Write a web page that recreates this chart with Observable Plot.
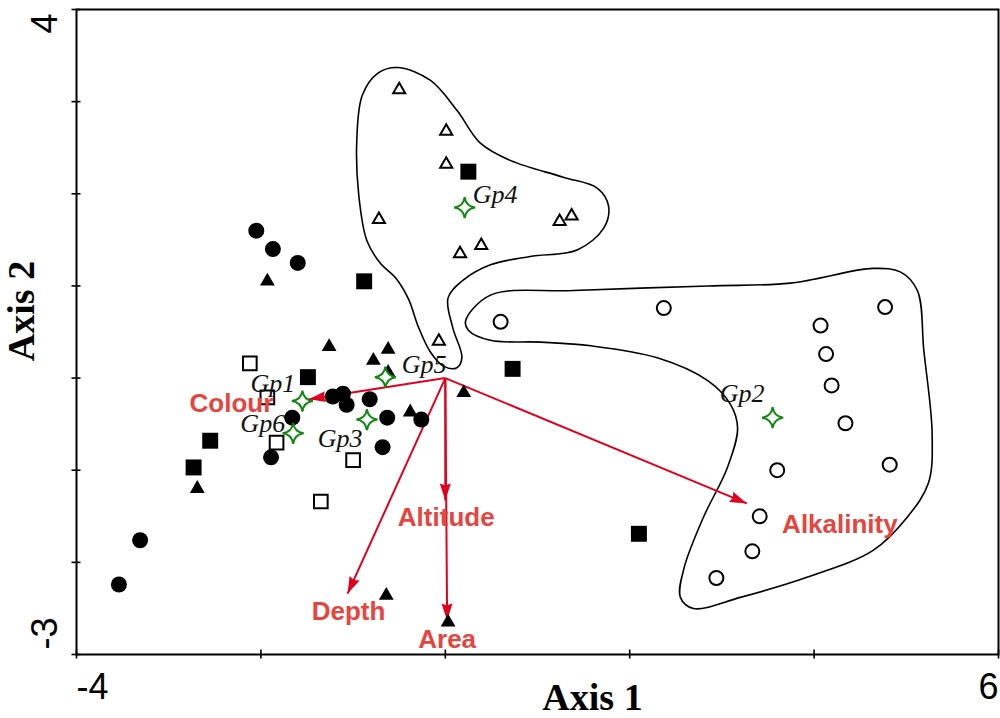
<!DOCTYPE html>
<html>
<head>
<meta charset="utf-8">
<script src="https://cdn.jsdelivr.net/npm/d3@7"></script>
<script src="https://cdn.jsdelivr.net/npm/@observablehq/plot@0.6"></script>
<style>
  html, body { margin: 0; padding: 0; background: #fff; }
  #chart svg { display: block; }
</style>
</head>
<body>
<div id="chart"></div>
<script>
// Site scores on the first two ordination axes, one array per symbol class
const filledCircles = [
  [-2.05, 1.60], [-1.87, 1.40], [-1.60, 1.25], [-1.66, -0.43], [-1.89, -0.86],
  [-3.31, -1.76], [-3.54, -2.24], [-1.22, -0.20], [-1.11, -0.17], [-1.07, -0.29],
  [-0.82, -0.23], [-0.63, -0.43], [-0.26, -0.45], [-0.68, -0.75]
];
const openCircles = [
  [0.60, 0.61], [2.37, 0.76], [4.77, 0.77], [4.07, 0.57], [4.13, 0.26],
  [4.19, -0.08], [4.34, -0.49], [3.60, -1.00], [4.82, -0.94], [3.41, -1.50],
  [3.33, -1.88], [2.94, -2.17]
];
const filledSquares = [
  [-1.49, 0.01], [-2.55, -0.68], [-2.73, -0.97], [0.25, 2.24], [-0.88, 1.05],
  [0.73, 0.10], [2.10, -1.69]
];
const openSquares = [
  [-2.12, 0.16], [-1.93, -0.21], [-1.83, -0.70], [-1.00, -0.89], [-1.35, -1.34]
];
const filledTriangles = [
  [-1.93, 1.05], [-1.26, 0.34], [-2.69, -1.20], [-0.62, 0.31], [-0.78, 0.19],
  [-0.62, 0.06], [-0.38, -0.37], [0.20, -0.16], [-0.64, -2.36], [0.03, -2.65]
];
const openTriangles = [
  [-0.50, 3.13], [0.01, 2.68], [0.01, 2.32], [-0.72, 1.72], [1.24, 1.70],
  [1.37, 1.76], [0.16, 1.35], [0.39, 1.44], [-0.07, 0.40]
];

// Group centroids and where their names are written
const groupNames = ["Gp1", "Gp2", "Gp3", "Gp4", "Gp5", "Gp6"];
const groupCentroids = [[-1.55, -0.25], [3.55, -0.43], [-0.85, -0.45], [0.21, 1.85], [-0.65, 0.01], [-1.65, -0.60]];
const groupLabelAt = [[-1.87, -0.06], [3.22, -0.17], [-1.14, -0.66], [0.54, 1.99], [-0.23, 0.14], [-1.98, -0.50]];

// Environmental variable vectors (biplot arrows from the origin)
const variableNames = ["Colour", "Altitude", "Depth", "Area", "Alkalinity"];
const variableTips = [[-1.48, -0.23], [0.00, -1.33], [-1.06, -2.34], [0.02, -2.63], [3.27, -1.36]];
const variableLabelAt = [[-2.32, -0.28], [0.01, -1.51], [-1.05, -2.54], [0.02, -2.84], [4.28, -1.59]];

// Hand-drawn outlines around groups Gp4 and Gp2
const outlineGp4 = [
  [-0.51, 3.37], [-0.16, 3.23], [0.13, 2.90], [0.38, 2.55], [0.71, 2.36], [1.28, 2.18],
  [1.65, 2.06], [1.77, 1.87], [1.72, 1.63], [1.43, 1.39], [0.92, 1.32], [0.49, 1.23],
  [0.19, 1.06], [0.03, 0.87], [0.08, 0.55], [0.18, 0.22], [0.12, 0.11], [-0.02, 0.13],
  [-0.16, 0.28], [-0.29, 0.55], [-0.40, 0.86], [-0.54, 1.09], [-0.70, 1.24], [-0.85, 1.49],
  [-0.94, 2.00], [-0.96, 2.58], [-0.90, 3.07], [-0.73, 3.31]
];
const outlineGp2 = [
  [0.22, 0.62], [0.49, 0.90], [1.39, 0.95], [2.85, 1.00], [3.74, 1.03], [4.64, 1.19],
  [4.94, 1.15], [5.12, 0.95], [5.19, 0.30], [5.28, -0.60], [5.24, -1.14], [5.01, -1.51],
  [4.64, -1.87], [3.93, -2.16], [3.20, -2.38], [2.69, -2.50], [2.55, -2.38], [2.59, -2.06],
  [2.80, -1.51], [3.06, -0.97], [3.17, -0.54], [3.09, -0.28], [2.85, -0.03], [2.30, 0.22],
  [1.58, 0.35], [1.04, 0.39], [0.49, 0.41], [0.25, 0.52]
];

// Axes
const xTicks = [-4, -2, 0, 2, 4, 6];
const yTicks = [-3, -2, -1, 0, 1, 2, 3, 4];
const xEndLabels = ["-4", "6"];
const yEndLabels = ["-3", "4"];
const xTitle = "Axis 1";
const yTitle = "Axis 2";

// ---- layout ----
const W = 1000, H = 718;
const M = {top: 9, right: 2, bottom: 64, left: 76};
const xDomain = [-4, 6], yDomain = [-3, 4];
const kx = (W - M.left - M.right) / (xDomain[1] - xDomain[0]);
const ky = (H - M.top - M.bottom) / (yDomain[1] - yDomain[0]);

const ARROW = "#e2001f";
const VARTEXT = "#e6453f";
const GREEN = "#118811";
const sans = "'Liberation Sans', Arial, Helvetica, sans-serif";
const serif = "'Liberation Serif', 'Times New Roman', Times, serif";

// four-pointed star with concave sides
const sparkle = {
  draw(context, size) {
    const r = Math.sqrt(size / Math.PI);
    const k = 0.12 * r;
    context.moveTo(0, -r);
    context.quadraticCurveTo(k, -k, r, 0);
    context.quadraticCurveTo(k, k, 0, r);
    context.quadraticCurveTo(-k, k, -r, 0);
    context.quadraticCurveTo(-k, -k, 0, -r);
    context.closePath();
  }
};
// filled arrowhead with its tip at the origin, pointing up
const arrowhead = {
  draw(context) {
    context.moveTo(0, 0);
    context.lineTo(5.5, 17);
    context.lineTo(0, 15);
    context.lineTo(-5.5, 17);
    context.closePath();
  }
};

const P = ([x, y]) => ({x, y});
const vars = variableNames.map((name, i) => ({
  name,
  x: variableTips[i][0], y: variableTips[i][1],
  lx: variableLabelAt[i][0], ly: variableLabelAt[i][1],
  angle: Math.atan2(variableTips[i][0] * kx, variableTips[i][1] * ky) * 180 / Math.PI
}));
const groups = groupNames.map((name, i) => ({
  name,
  x: groupCentroids[i][0], y: groupCentroids[i][1],
  lx: groupLabelAt[i][0], ly: groupLabelAt[i][1]
}));

const chart = Plot.plot({
  width: W,
  height: H,
  marginTop: M.top,
  marginRight: M.right,
  marginBottom: M.bottom,
  marginLeft: M.left,
  x: {domain: xDomain, axis: null},
  y: {domain: yDomain, axis: null},
  style: {background: "white", overflow: "visible"},
  marks: [
    // group outlines
    Plot.line(outlineGp4.map(P), {x: "x", y: "y", curve: "catmull-rom-closed", stroke: "black", strokeWidth: 1.6}),
    Plot.line(outlineGp2.map(P), {x: "x", y: "y", curve: "catmull-rom-closed", stroke: "black", strokeWidth: 1.6}),

    // variable arrows
    Plot.link(vars, {x1: 0, y1: 0, x2: "x", y2: "y", stroke: ARROW, strokeWidth: 2}),
    Plot.dot(vars, {x: "x", y: "y", symbol: arrowhead, fill: ARROW, stroke: "none", rotate: "angle"}),

    // sites
    Plot.dot(filledCircles.map(P), {x: "x", y: "y", symbol: "circle", r: 8, fill: "black"}),
    Plot.dot(openCircles.map(P), {x: "x", y: "y", symbol: "circle", r: 7, fill: "white", stroke: "black", strokeWidth: 2}),
    Plot.dot(filledSquares.map(P), {x: "x", y: "y", symbol: "square", r: 9, fill: "black"}),
    Plot.dot(openSquares.map(P), {x: "x", y: "y", symbol: "square", r: 7.7, fill: "white", stroke: "black", strokeWidth: 2}),
    Plot.dot(filledTriangles.map(P), {x: "x", y: "y", symbol: "triangle", r: 5.5, fill: "black"}),
    Plot.dot(openTriangles.map(P), {x: "x", y: "y", symbol: "triangle", r: 4.5, fill: "white", stroke: "black", strokeWidth: 2}),

    // group centroids
    Plot.dot(groups, {x: "x", y: "y", symbol: sparkle, r: 10.5, fill: "white", stroke: GREEN, strokeWidth: 2}),

    // labels
    Plot.text(groups, {x: "lx", y: "ly", text: "name", fontFamily: serif, fontStyle: "italic", fontSize: 26, fill: "#111", textAnchor: "middle", lineAnchor: "middle"}),
    Plot.text(vars, {x: "lx", y: "ly", text: "name", fontFamily: sans, fontWeight: "bold", fontSize: 26, fill: VARTEXT, textAnchor: "middle", lineAnchor: "middle"}),

    // frame and crossing ticks
    Plot.frame({stroke: "black", strokeWidth: 2}),
    Plot.ruleX(xTicks, {x: d => d, y1: yDomain[0], y2: yDomain[0], insetTop: 4.5, insetBottom: 4.5, stroke: "black", strokeWidth: 1.6}),
    Plot.ruleY(yTicks, {y: d => d, x1: xDomain[0], x2: xDomain[0], insetLeft: 4.5, insetRight: 4.5, stroke: "black", strokeWidth: 1.6}),

    // end tick labels
    Plot.text([xEndLabels[0]], {x: xTicks[0], frameAnchor: "bottom", dy: 33, text: d => d, textAnchor: "start", lineAnchor: "middle", fontFamily: sans, fontSize: 36, fill: "black"}),
    Plot.text([xEndLabels[1]], {x: xTicks[xTicks.length - 1], frameAnchor: "bottom", dy: 33, text: d => d, textAnchor: "end", lineAnchor: "middle", fontFamily: sans, fontSize: 36, fill: "black"}),
    Plot.text([yEndLabels[0]], {y: yTicks[0], frameAnchor: "left", dx: -31, dy: -5, rotate: -90, text: d => d, textAnchor: "start", lineAnchor: "middle", fontFamily: sans, fontSize: 36, fill: "black"}),
    Plot.text([yEndLabels[1]], {y: yTicks[yTicks.length - 1], frameAnchor: "left", dx: -31, dy: 4, rotate: -90, text: d => d, textAnchor: "end", lineAnchor: "middle", fontFamily: sans, fontSize: 36, fill: "black"}),

    // axis titles
    Plot.text([xTitle], {frameAnchor: "bottom", dx: 55, dy: 43, text: d => d, textAnchor: "middle", lineAnchor: "middle", fontFamily: serif, fontWeight: "bold", fontSize: 38, fill: "black"}),
    Plot.text([yTitle], {frameAnchor: "left", dx: -55, dy: -21, rotate: -90, text: d => d, textAnchor: "middle", lineAnchor: "middle", fontFamily: serif, fontWeight: "bold", fontSize: 38, fill: "black"})
  ]
});

document.getElementById("chart").appendChild(chart);
</script>
</body>
</html>
